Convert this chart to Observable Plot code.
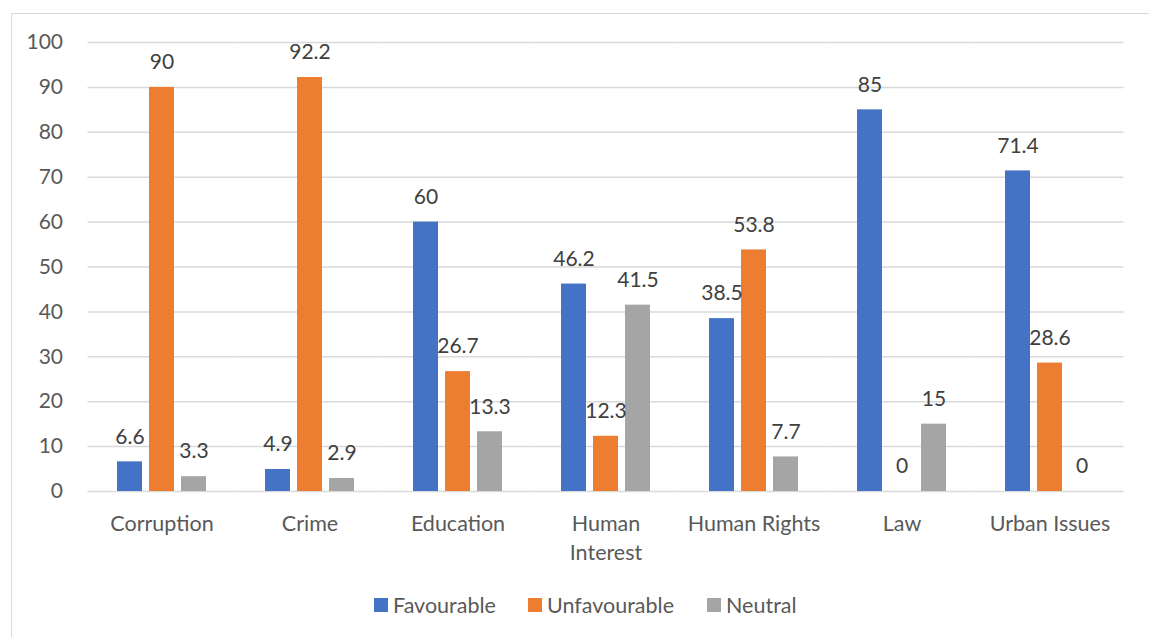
<!DOCTYPE html>
<html>
<head>
<meta charset="utf-8">
<script src="https://cdn.jsdelivr.net/npm/d3@7"></script>
<script src="https://cdn.jsdelivr.net/npm/@observablehq/plot@0.6"></script>
<style>
  html, body { margin: 0; padding: 0; background: #fff; }
  #wrap { position: relative; width: 1149px; height: 637px; overflow: hidden; font-family: Lato, "Noto Sans", sans-serif; }
  #frame { position: absolute; left: 11px; top: 13px; width: 1200px; height: 700px;
           border-left: 1.5px solid #d9d9d9; border-top: 1.5px solid #d9d9d9; }
  #chart { position: absolute; left: 0; top: 0; }
  #legend { position: absolute; left: 0; top: 593px; width: 1149px; height: 24px; }
  .item { position: absolute; top: 0; display: flex; align-items: center; height: 24px;
          font-size: 21.5px; color: #595959; white-space: nowrap; }
  .swatch { width: 14px; height: 14px; margin-right: 5px; }
</style>
</head>
<body>
<div id="wrap">
  <div id="frame"></div>
  <div id="chart"></div>
  <div id="legend"></div>
</div>
<script>
// Topics on the x axis
const categories = ["Corruption", "Crime", "Education", "Human Interest", "Human Rights", "Law", "Urban Issues"];
// Sentiment series
const series = ["Favourable", "Unfavourable", "Neutral"];
const favourable = [6.6, 4.9, 60, 46.2, 38.5, 85, 71.4];
const unfavourable = [90, 92.2, 26.7, 12.3, 53.8, 0, 28.6];
const neutral = [3.3, 2.9, 13.3, 41.5, 7.7, 15, 0];
const colors = ["#4472c4", "#ed7d31", "#a5a5a5"];
const yTicks = [0, 10, 20, 30, 40, 50, 60, 70, 80, 90, 100];

// Long topic names broken over two lines on the axis
const wrapped = {"Human Interest": "Human\nInterest"};

const values = [favourable, unfavourable, neutral];
const rows = categories.flatMap((c, i) =>
  series.map((s, j) => ({category: c, series: s, value: values[j][i]}))
);

const fxPadInner = 0.385;
const fxPadOuter = fxPadInner / 2;
// half of the gap between two topic groups (plot width 1036px over 7 groups)
const halfGap = (1036 / (7 - fxPadInner + 2 * fxPadOuter)) * fxPadInner / 2;

const chart = Plot.plot({
  width: 1149,
  height: 575,
  marginLeft: 88,
  marginRight: 25,
  marginTop: 42,
  marginBottom: 84,
  style: {fontFamily: "Lato, 'Noto Sans', sans-serif", background: "transparent"},
  fx: {domain: categories, paddingInner: fxPadInner, paddingOuter: fxPadOuter, label: null},
  x: {domain: series, paddingInner: 0.21, paddingOuter: 0, axis: null},
  y: {domain: [0, 100], label: null},
  color: {domain: series, range: colors},
  marks: [
    // horizontal gridlines spanning the gaps between groups
    Plot.ruleY(yTicks, {stroke: "#d9d9d9", strokeWidth: 1.5, insetLeft: -halfGap, insetRight: -halfGap}),
    Plot.barY(rows, {fx: "category", x: "series", y: "value", fill: "series"}),
    Plot.text(rows, {
      fx: "category", x: "series", y: "value",
      text: d => `${d.value}`,
      dy: -25, fontSize: 21, fill: "#404040"
    }),
    // the y axis sits in the first group's frame, so pad past the outer gap
    Plot.axisY({ticks: yTicks, tickSize: 0, tickPadding: 25 + halfGap, fontSize: 21, color: "#595959", label: null}),
    Plot.axisFx({
      anchor: "bottom", tickSize: 0, tickPadding: 18, fontSize: 21.5, color: "#595959",
      lineHeight: 1.38, label: null,
      tickFormat: d => wrapped[d] ?? d
    })
  ]
});
document.getElementById("chart").appendChild(chart);

// Legend row below the chart
const legend = document.getElementById("legend");
const legendX = [374, 528, 707];
series.forEach((s, i) => {
  const item = document.createElement("div");
  item.className = "item";
  item.style.left = legendX[i] + "px";
  const sw = document.createElement("span");
  sw.className = "swatch";
  sw.style.background = colors[i];
  const label = document.createElement("span");
  label.textContent = s;
  item.appendChild(sw);
  item.appendChild(label);
  legend.appendChild(item);
});
</script>
</body>
</html>
